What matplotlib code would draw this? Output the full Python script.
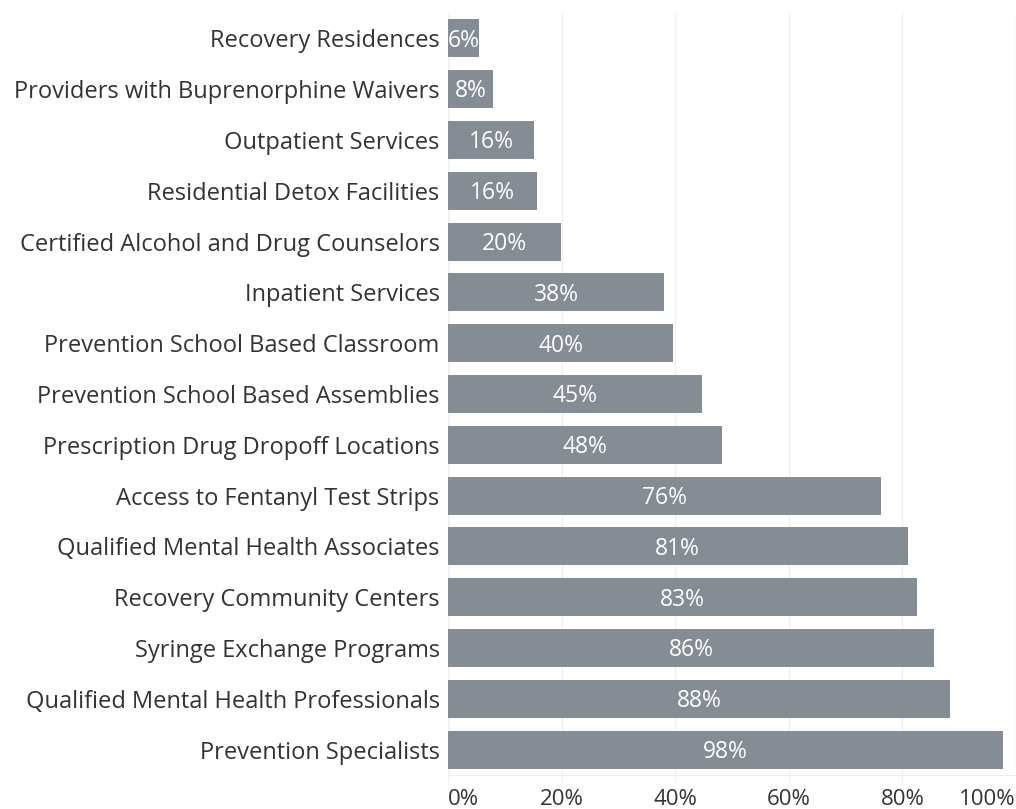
import matplotlib.pyplot as plt

categories = [
    "Recovery Residences",
    "Providers with Buprenorphine Waivers",
    "Outpatient Services",
    "Residential Detox Facilities",
    "Certified Alcohol and Drug Counselors",
    "Inpatient Services",
    "Prevention School Based Classroom",
    "Prevention School Based Assemblies",
    "Prescription Drug Dropoff Locations",
    "Access to Fentanyl Test Strips",
    "Qualified Mental Health Associates",
    "Recovery Community Centers",
    "Syringe Exchange Programs",
    "Qualified Mental Health Professionals",
    "Prevention Specialists",
]
values = [0.055, 0.079, 0.152, 0.157, 0.199, 0.381, 0.396, 0.447, 0.482,
          0.763, 0.809, 0.826, 0.856, 0.884, 0.977]
labels = ["6%", "8%", "16%", "16%", "20%", "38%", "40%", "45%", "48%",
          "76%", "81%", "83%", "86%", "88%", "98%"]
xticks = [0, 0.2, 0.4, 0.6, 0.8, 1.0]
xticklabels = ["0%", "20%", "40%", "60%", "80%", "100%"]

plt.rcParams['font.family'] = ['Open Sans', 'DejaVu Sans']

fig = plt.figure(figsize=(10.16, 8.09), dpi=100)
ax = fig.add_axes([0.441, 0.042, 0.559, 0.942])

y = list(range(len(categories)))
ax.barh(y, values, height=0.75, color='#858c93', zorder=2)
for i, (v, lab) in enumerate(zip(values, labels)):
    ax.annotate(lab, xy=(v / 2, i), xytext=(0, -6), textcoords='offset points',
                ha='center', va='baseline', color='white', fontsize=16.5,
                zorder=3)

ax.set_ylim(len(categories) - 0.5, -0.5)
ax.set_xlim(0, 1.0)
ax.set_yticks(y)
ax.set_yticklabels(categories, fontsize=17, color='#333333')
ax.tick_params(axis='y', length=0, pad=6)

ax.set_xticks(xticks)
ax.set_xticklabels(xticklabels, fontsize=16, color='#333333')
ax.tick_params(axis='x', length=5, color='#eeeeee', pad=5)
tl = ax.get_xticklabels()
tl[0].set_ha('left')
tl[-1].set_ha('right')

ax.grid(axis='x', color='#eeeeee', linewidth=1, zorder=0)
for s in ['top', 'right', 'left']:
    ax.spines[s].set_visible(False)
ax.spines['bottom'].set_color('#eeeeee')
ax.axvline(0, color='#e4e4e4', linewidth=1, zorder=1)

fig.savefig('out.png', dpi=100)
